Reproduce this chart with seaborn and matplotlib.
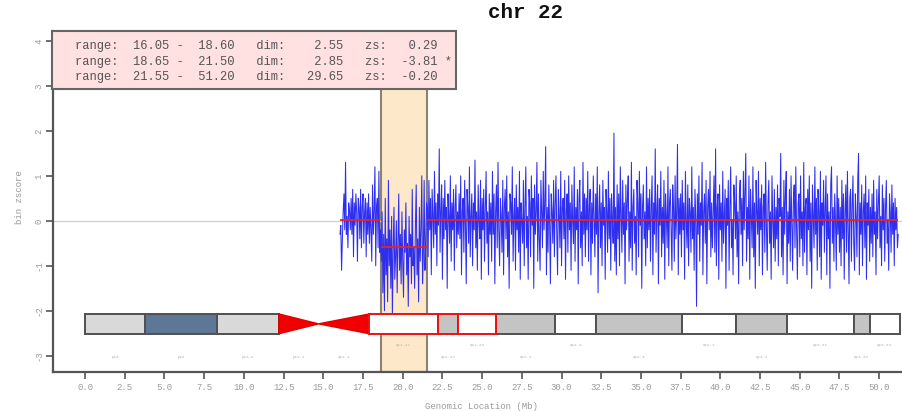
import numpy as np
import pandas as pd
import matplotlib
matplotlib.use("Agg")
import matplotlib.pyplot as plt
from matplotlib.patches import Rectangle, Polygon
import seaborn as sns

# ---- segmentation summary ----
seg_start = [16.05, 18.65, 21.55]
seg_end = [18.60, 21.50, 51.20]
seg_dim = [2.55, 2.85, 29.65]
seg_zs = [0.29, -3.81, -0.20]
seg_sig = [False, True, False]

# ---- bin z-scores per segment (0.05 Mb bins) ----
seg1_z = [-0.3, -0.1, -1.1, -0.4, 0.2, 0.6, -0.2, 1.3, -0.3, 0.1, -0.6, 0.4, 0.2, -0.2,
          0.5, -0.3, 0.7, -0.8, 0.4, -0.1, 0.6, 0.2, -0.9, 0.5, 0.3, -0.4, 0.7, -0.6,
          0.3, 0.6, -0.5, 0.2, 0.5, -0.8, 0.4, -0.3, 0.6, -0.5, 0.3, -0.2, -0.9, 0.8,
          -0.3, 0.2, 1.2, -1.0, 0.3, 0.5, -0.6, 1.1, -0.7, -0.2]
seg2_z = [-0.9, 0.2, -1.6, -0.3, -2.0, 0.5, -1.2, -0.4, -1.8, 0.9, -1.0, -0.2, -1.5, 0.1,
          -2.1, -0.6, 0.3, -1.3, -0.8, 0.0, -1.6, -0.5, 0.6, -1.1, -0.3, -1.4, 0.2, -0.9,
          -1.7, -0.2, -0.7, 0.4, -1.2, -0.5, -1.9, 0.1, -0.8, -0.3, -1.4, 0.7, -1.0, -0.6,
          -1.5, -0.1, 0.8, -1.2, -0.4, -1.8, 0.3, -0.9, -0.2, 1.0, -1.4, -0.7, 0.9, -1.1,
          -0.5, 0.4]
seg3_z = [
    0.3, -0.8, 0.9, -0.2, 0.5, -1.2, 0.7, 0.1, -0.6, 1.1, -0.3, 0.4, -1.0, 0.6, -0.1, 1.6,
    -0.7, 0.2, 0.8, -1.3, 0.5, -0.4, 0.9, -0.2, 0.3, -1.5, 0.6, 0.1, -0.5, 1.0, -0.9, 0.4,
    -0.2, 0.7, -1.1, 0.3, 0.8, -0.6, 0.2, -0.3,
    0.6, -0.4, 1.0, -1.2, 0.2, 0.5, -0.7, 0.9, -0.1, -1.4, 0.7, 0.3, -0.5, 1.2, -0.8, 0.1,
    0.6, -1.0, 0.4, -0.2, 1.35, -0.6, 0.2, -1.1, 0.8, 0.0, -0.4, 0.9, -1.3, 0.5, -0.2, 0.7,
    -0.9, 0.3, 1.1, -0.5, 0.2, -1.2, 0.6, -0.3,
    0.4, -0.9, 1.1, -0.3, 0.6, -1.4, 0.2, 0.8, -0.6, 1.3, -0.2, -1.0, 0.5, 0.1, -0.7, 0.9,
    -1.2, 0.3, 0.7, -0.4, 1.0, -0.8, 0.2, -1.5, 0.6, 0.4, -0.3, 1.2, -0.9, 0.1, 0.5, -1.1,
    0.8, -0.2, 0.3, -0.7, 1.1, -1.3, 0.4, 0.0,
    -0.5, 0.9, -1.0, 0.3, 1.2, -0.6, 0.1, -1.3, 0.7, 0.4, -0.8, 1.0, -0.1, 0.5, -1.5, 0.8,
    -0.3, 0.2, 1.3, -0.9, 0.6, -0.4, -1.1, 0.9, 0.2, -0.6, 1.1, -0.2, 0.4, 1.65, -1.2, 0.3,
    -0.7, 0.8, -0.1, -1.4, 0.6, 0.2, -0.5, 0.9,
    -0.8, 0.4, 1.0, -0.3, -1.2, 0.7, 0.1, -0.6, 1.1, -1.0, 0.3, 0.5, -0.4, 0.9, -1.3, 0.2,
    0.6, -0.7, 1.0, -0.2, 0.4, -1.1, 0.8, 0.0, -0.5, 1.2, -0.9, 0.3, -0.2, 0.7, -1.4, 0.5,
    0.9, -0.6, 0.2, -1.0, 1.3, -0.3, 0.6, -0.8,
    0.5, -0.2, 1.1, -0.9, 0.3, 0.7, -1.2, 0.4, -0.5, 1.0, 0.1, -0.8, 0.6, -0.3, 1.2, -1.6,
    0.2, 0.8, -0.6, 0.4, -1.0, 0.9, -0.1, 0.3, -1.3, 0.7, 0.2, -0.7, 1.1, -0.4, 0.5, -1.1,
    0.6, 0.0, -0.5, 1.95, -0.9, 0.3, -1.2, 0.8,
    -0.4, 0.6, -1.0, 1.2, 0.1, -0.7, 0.9, -0.3, 0.4, -1.4, 0.8, -0.2, 0.5, 1.0, -0.9, 0.2,
    -0.6, 1.3, -1.1, 0.3, 0.7, -0.5, 0.1, -1.2, 0.9, 0.4, -0.8, 1.1, -0.1, 0.6, -1.5, 0.3,
    0.8, -0.4, 0.2, -1.0, 1.2, -0.6, 0.5, -0.2,
    0.7, -0.9, 0.3, 1.0, -1.2, 0.4, -0.3, 1.6, -0.7, 0.2, 0.8, -1.4, 0.5, -0.1, 1.1, -0.8,
    0.3, -0.5, 0.9, -1.3, 0.6, 0.1, -0.6, 1.2, -1.0, 0.4, 0.7, -0.2, -1.1, 0.8, 0.3, -0.9,
    1.0, -0.4, 0.2, 1.7, -1.2, 0.5, -0.3, 0.6,
    -0.8, 0.9, -0.2, 0.4, -1.3, 1.1, 0.0, -0.6, 0.8, -1.0, 0.5, 0.2, -0.7, 1.2, -0.4, 0.3,
    -1.1, 0.7, 0.1, -1.9, 0.6, -0.3, 1.0, -0.9, 0.4, -0.1, 1.3, -1.2, 0.2, 0.6, -0.5, 0.9,
    -1.4, 0.3, 0.7, -0.2, 1.1, -0.8, 0.4, -0.6,
    0.2, 1.0, -0.7, 1.6, -1.0, 0.3, 0.6, -1.3, 0.8, -0.2, 0.4, -0.9, 1.1, -0.5, 0.1, 0.7,
    -1.5, 0.5, -0.1, 0.9, -1.1, 0.3, 1.2, -0.6, 0.0, -1.2, 0.8, 0.4, -0.4, 1.0, -0.8, 0.2,
    -1.4, 0.6, 0.9, -0.3, 0.5, -1.0, 1.1, -0.2,
    0.6, 1.5, -0.9, 0.3, -0.4, 1.0, -1.3, 0.7, 0.1, -0.6, 1.2, -0.8, 0.4, -1.5, 0.9, 0.2,
    -0.3, 1.1, -1.0, 0.5, -0.2, 0.8, -1.2, 0.3, 0.6, -0.7, 1.3, -0.1, -1.1, 0.4, 0.9, -0.5,
    0.2, -1.3, 1.0, 0.0, -0.6, 0.7, -0.9, 0.3,
    -0.4, 0.8, -1.0, 0.5, 0.1, 1.5, -0.8, 0.3, -1.2, 0.9, -0.3, 0.6, 1.1, -1.4, 0.2, -0.5,
    0.7, -0.9, 1.0, 0.0, -1.1, 0.5, 0.8, -0.6, 1.2, -0.2, -1.3, 0.4, 0.6, -0.8, 1.0, -0.4,
    0.2, -1.0, 1.3, -0.7, 0.3, 0.5, -1.2, 0.7,
    -0.2, 1.0, -0.9, 0.4, -1.5, 0.8, 0.1, -0.6, 1.2, -0.3, 0.5, -1.1, 0.7, 0.2, -0.8, 1.1,
    -1.3, 0.4, -0.1, 0.9, -0.7, 0.3, 1.0, -1.2, 0.6, -0.4, 0.2, -1.5, 0.8, 1.2, -0.5, 0.3,
    -0.9, 0.6, 0.0, -1.1, 1.0, -0.3, 0.5, -0.7,
    0.3, -1.0, 0.9, -0.4, 0.6, -1.3, 0.2, 0.8, -0.7, 1.1, -0.2, -1.4, 0.5, 0.7, -0.9, 0.3,
    1.0, -0.5, -1.1, 0.6, 0.1, -0.8, 0.9, 1.5, -1.2, 0.4, -0.3, 0.8, -1.0, 0.2, 0.6, -0.6,
    1.0, -1.3, 0.4, -0.1, 0.7, -0.9, 0.3, -0.5,
    0.6, -0.8, 0.9, -0.3, 0.2, -1.2, 0.7, -0.4, 0.4, 1.0, -0.6, 0.1, -1.0, 0.8, -0.2, 0.5,
    -0.9, 0.3, 0.9, -0.5, 0.0, -1.1, 0.6, 0.2, -0.7, 0.8, -0.3, 0.4, -1.0, 0.5, -0.2, 0.3,
    -0.6, -0.3,
]

# ---- chromosome 22 cytobands (Mb) ----
band_names = ["p13", "p12", "p11.2", "p11.1", "q11.1", "q11.21", "q11.22", "q11.23",
              "q12.1", "q12.2", "q12.3", "q13.1", "q13.2", "q13.31", "q13.32", "q13.33"]
band_start = [0.0, 3.8, 8.3, 12.2, 14.7, 17.9, 22.2, 23.5, 25.9, 29.6, 32.2, 37.6,
              41.0, 44.2, 48.4, 49.4]
band_end = [3.8, 8.3, 12.2, 14.7, 17.9, 22.2, 23.5, 25.9, 29.6, 32.2, 37.6, 41.0,
            44.2, 48.4, 49.4, 51.3]
band_stain = ["stalk", "gvar", "stalk", "acen_p", "acen_q", "gneg", "gpos", "gneg",
              "gpos", "gneg", "gpos", "gneg", "gpos", "gneg", "gpos", "gneg"]
band_hit = [False, False, False, False, False, True, True, True,
            False, False, False, False, False, False, False, False]
band_label_row = [1, 1, 1, 1, 1, 0, 1, 0, 1, 0, 1, 0, 1, 0, 1, 0]

xtick_values = np.arange(0, 50.01, 2.5)
ytick_values = [-3, -2, -1, 0, 1, 2, 3, 4]

stain_color = {"stalk": "#D9D9D9", "gvar": "#5D7797", "gneg": "#FFFFFF", "gpos": "#C4C4C4"}

MONO = "Liberation Mono"
GRAY_TXT = "#9A9A9A"
AX_COL = "#555555"

sns.set_theme(style="white")
plt.rcParams["font.family"] = [MONO, "DejaVu Sans"]

fig = plt.figure(figsize=(9.03, 4.11), dpi=100)
W, H = 903.0, 411.0
ax = fig.add_axes([53 / W, 1 - 372 / H, 850 / W, 341 / H])

YMIN, YMAX = -3.36, 4.22
ax.set_xlim(-2.02, 51.5)
ax.set_ylim(YMIN, YMAX)

# per-bin table
rows = []
for s, e, vals in zip(seg_start, seg_end, [seg1_z, seg2_z, seg3_z]):
    pos = np.linspace(s, e, len(vals))
    rows.append(pd.DataFrame({"pos": pos, "z": vals}))
bins = pd.concat(rows, ignore_index=True)

# highlighted (significant) segment
for s, e, sig in zip(seg_start, seg_end, seg_sig):
    if sig:
        ax.add_patch(Rectangle((s, YMIN), e - s, YMAX - YMIN, facecolor="#FDE9C9",
                               edgecolor="#8A8275", lw=1.5, zorder=0.5))

ax.axhline(0, color="#CFCFCF", lw=0.9, zorder=1)

sns.lineplot(data=bins, x="pos", y="z", ax=ax, color="#2E2EEE", lw=0.75,
             estimator=None, sort=True, zorder=3)

# segment means
for s, e, vals in zip(seg_start, seg_end, [seg1_z, seg2_z, seg3_z]):
    ax.hlines(np.mean(vals), s, e, color="#E8231F", lw=1.3, zorder=4)

# ideogram
IY0, IY1 = -2.51, -2.07
IMID = (IY0 + IY1) / 2
for name, b0, b1, st, hit in zip(band_names, band_start, band_end, band_stain, band_hit):
    if st == "acen_p":
        ax.add_patch(Polygon([(b0, IY0), (b0, IY1), (b1, IMID)], closed=True,
                             facecolor="#F00000", edgecolor="#E00000", lw=1, zorder=5))
    elif st == "acen_q":
        ax.add_patch(Polygon([(b0, IMID), (b1, IY1), (b1, IY0)], closed=True,
                             facecolor="#F00000", edgecolor="#E00000", lw=1, zorder=5))
    else:
        ax.add_patch(Rectangle((b0, IY0), b1 - b0, IY1 - IY0, facecolor=stain_color[st],
                               edgecolor="#F01010" if hit else "#505050",
                               lw=1.4, zorder=6 if hit else 5))

for name, b0, b1, r in zip(band_names, band_start, band_end, band_label_row):
    ax.text((b0 + b1) / 2, -2.76 if r == 0 else -3.02, name, ha="center", va="center",
            fontsize=3, color="#B0B0B0", zorder=6)

# axes styling
for side in ["top", "right"]:
    ax.spines[side].set_visible(False)
for side in ["left", "bottom"]:
    ax.spines[side].set_color(AX_COL)
    ax.spines[side].set_linewidth(1.6)
ax.set_xticks(xtick_values)
ax.set_xticklabels([f"{v:.1f}" for v in xtick_values])
ax.set_yticks(ytick_values)
ax.set_yticklabels([str(v) for v in ytick_values], rotation=90, va="center")
ax.tick_params(axis="both", which="major", bottom=True, left=True, direction="out",
               length=5, width=1.2, color=AX_COL, labelcolor=GRAY_TXT, labelsize=6.5)
ax.tick_params(axis="x", pad=3)
ax.tick_params(axis="y", pad=2)
ax.set_xlabel("")
ax.set_ylabel("")
ax.grid(False)

# summary box
ax.add_patch(Rectangle((-2.08, 2.93), 25.44, 1.29, facecolor="#FFE1E1", edgecolor="#666666",
                       lw=1.5, clip_on=False, zorder=7))
line_y = [3.89, 3.535, 3.2]
for s, e, d, z, sig, yy in zip(seg_start, seg_end, seg_dim, seg_zs, seg_sig, line_y):
    txt = f"range:  {s:5.2f} -  {e:5.2f}   dim:   {d:5.2f}   zs:  {z:5.2f}" + (" *" if sig else "")
    ax.text(-0.63, yy, txt, ha="left", va="center", fontsize=8.7, color="#555555",
            family=MONO, zorder=8, clip_on=False)

fig.text(525 / W, 1 - 13 / H, "chr 22", ha="center", va="center", fontsize=15,
         fontweight="bold", family=MONO, color="#111111")
fig.text(481 / W, 1 - 406 / H, "Genomic Location (Mb)", ha="center", va="center",
         fontsize=6.5, color=GRAY_TXT, family=MONO)
fig.text(20 / W, 1 - 197 / H, "bin zscore", ha="center", va="center", rotation=90,
         fontsize=6.5, color=GRAY_TXT, family=MONO)

fig.savefig("out.png", dpi=100, facecolor="white")
